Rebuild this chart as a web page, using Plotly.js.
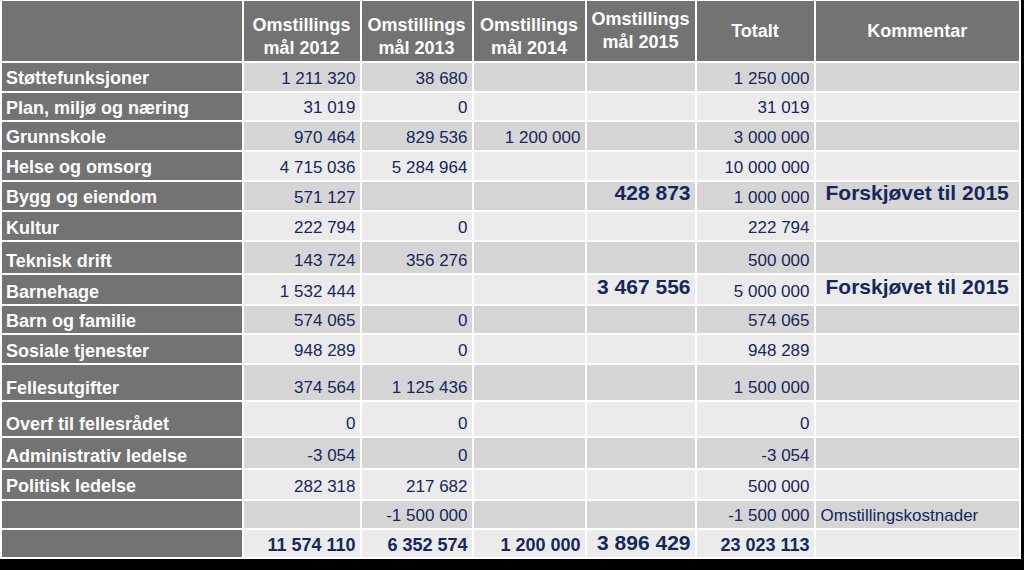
<!DOCTYPE html>
<html>
<head>
<meta charset="utf-8">
<script src="https://cdn.plot.ly/plotly-3.0.1.min.js"></script>
<style>html,body{margin:0;padding:0;background:#000;}#chart{width:1024px;height:570px;}</style>
</head>
<body>
<div id="chart"></div>
<script>
// ---- data ----
const headers = ['', 'Omstillings<br>mål 2012', 'Omstillings<br>mål 2013', 'Omstillings<br>mål 2014', 'Omstillings<br>mål 2015', 'Totalt', 'Kommentar'];
const rowLabels = ['Støttefunksjoner', 'Plan, miljø og næring', 'Grunnskole', 'Helse og omsorg', 'Bygg og eiendom', 'Kultur', 'Teknisk drift', 'Barnehage', 'Barn og familie', 'Sosiale tjenester', 'Fellesutgifter', 'Overf til fellesrådet', 'Administrativ ledelse', 'Politisk ledelse', '', ''];
const mal2012 = [1211320, 31019, 970464, 4715036, 571127, 222794, 143724, 1532444, 574065, 948289, 374564, 0, -3054, 282318, null, 11574110];
const mal2013 = [38680, 0, 829536, 5284964, null, 0, 356276, null, 0, 0, 1125436, 0, 0, 217682, -1500000, 6352574];
const mal2014 = [null, null, 1200000, null, null, null, null, null, null, null, null, null, null, null, null, 1200000];
const mal2015 = [null, null, null, null, 428873, null, null, 3467556, null, null, null, null, null, null, null, 3896429];
const totalt = [1250000, 31019, 3000000, 10000000, 1000000, 222794, 500000, 5000000, 574065, 948289, 1500000, 0, -3054, 500000, -1500000, 23023113];
const kommentar = ['', '', '', '', 'Forskjøvet til 2015', '', '', 'Forskjøvet til 2015', '', '', '', '', '', '', 'Omstillingskostnader', ''];

// ---- layout geometry (pixel grid of the table) ----
const colEdges = [1, 242.5, 360.5, 472.5, 585.5, 695.5, 814.5, 1020];
const rowEdges = [0, 62, 91.5, 121, 150.5, 180.5, 210.5, 241, 274, 305, 334, 364, 401, 437, 469, 499.5, 529, 558];
const headerY = [31, 38, 38, 38, 32, 32, 32];

const DARK = '#737373', C1 = '#d5d5d5', C2 = '#ebebeb', NAVY = '#17275e';
const FONT = 'Liberation Sans, Arial, sans-serif';
const nRows = rowLabels.length;
const totalRow = nRows - 1;

function fmt(v) {
  if (v === null || v === undefined) return '';
  const s = Math.abs(v).toString().replace(/\B(?=(\d{3})+(?!\d))/g, ' ');
  return (v < 0 ? '-' : '') + s;
}

// background cells as a heatmap (0 = dark grey, 1 = mid grey, 2 = light grey)
const z = [];
for (let r = 0; r <= nRows; r++) {
  const row = [];
  for (let c = 0; c < headers.length; c++) {
    if (r === 0 || c === 0) row.push(0);
    else row.push((r - 1) % 2 === 0 ? 1 : 2);
  }
  z.push(row);
}
const cellTrace = {
  type: 'heatmap',
  x: colEdges, y: rowEdges, z: z,
  zmin: 0, zmax: 2,
  colorscale: [[0, DARK], [0.5, C1], [1, C2]],
  showscale: false, xgap: 2, ygap: 2, hoverinfo: 'skip'
};

const traces = [cellTrace];

// header texts
traces.push({
  type: 'scatter', mode: 'text', hoverinfo: 'skip', cliponaxis: false,
  x: headers.map((_, c) => (colEdges[c] + colEdges[c + 1]) / 2),
  y: headerY,
  text: headers.map(h => h ? '<b>' + h + '</b>' : ''),
  textposition: 'middle center',
  textfont: {family: FONT, size: 18, color: '#ffffff'}
});

// row labels
traces.push({
  type: 'scatter', mode: 'text', hoverinfo: 'skip', cliponaxis: false,
  x: rowLabels.map(() => colEdges[0] + 5),
  y: rowLabels.map((_, i) => rowEdges[i + 2] - 12),
  text: rowLabels.map(t => t ? '<b>' + t + '</b>' : ''),
  textposition: 'middle right',
  textfont: {family: FONT, size: 18, color: '#ffffff'}
});

// numeric columns
const numCols = [mal2012, mal2013, mal2014, mal2015, totalt];
numCols.forEach((col, ci) => {
  const big = ci === 3;
  traces.push({
    type: 'scatter', mode: 'text', hoverinfo: 'skip', cliponaxis: false,
    x: col.map(() => colEdges[ci + 2] - 5),
    y: col.map((_, i) => rowEdges[i + 2] - (big ? (i === totalRow ? 13 : 16) : 12)),
    text: col.map((v, i) => {
      const s = fmt(v);
      if (!s) return '';
      return (big || i === totalRow) ? '<b>' + s + '</b>' : s;
    }),
    textposition: 'middle left',
    textfont: {family: FONT, size: col.map((_, i) => big ? 21 : (i === totalRow ? 18 : 17)), color: NAVY}
  });
});

// comments
traces.push({
  type: 'scatter', mode: 'text', hoverinfo: 'skip', cliponaxis: false,
  x: kommentar.map(t => colEdges[6] + (t.startsWith('Forskj') ? 11 : 6)),
  y: kommentar.map((t, i) => rowEdges[i + 2] - (t.startsWith('Forskj') ? 16 : 12)),
  text: kommentar.map(t => t.startsWith('Forskj') ? '<b>' + t + '</b>' : t),
  textposition: 'middle right',
  textfont: {family: FONT, size: kommentar.map(t => t.startsWith('Forskj') ? 21 : 17), color: NAVY}
});

const layout = {
  width: 1024, height: 570,
  margin: {l: 0, r: 0, t: 0, b: 0, pad: 0},
  paper_bgcolor: '#000000',
  plot_bgcolor: '#000000',
  showlegend: false,
  xaxis: {range: [0, 1024], visible: false, fixedrange: true},
  yaxis: {range: [570, 0], visible: false, fixedrange: true},
  shapes: [{type: 'rect', layer: 'below', xref: 'x', yref: 'y', x0: 0, x1: 1021, y0: 0, y1: 559,
            fillcolor: '#ffffff', line: {width: 0}}]
};
Plotly.newPlot('chart', traces, layout, {displayModeBar: false, staticPlot: true});
</script>
</body>
</html>
